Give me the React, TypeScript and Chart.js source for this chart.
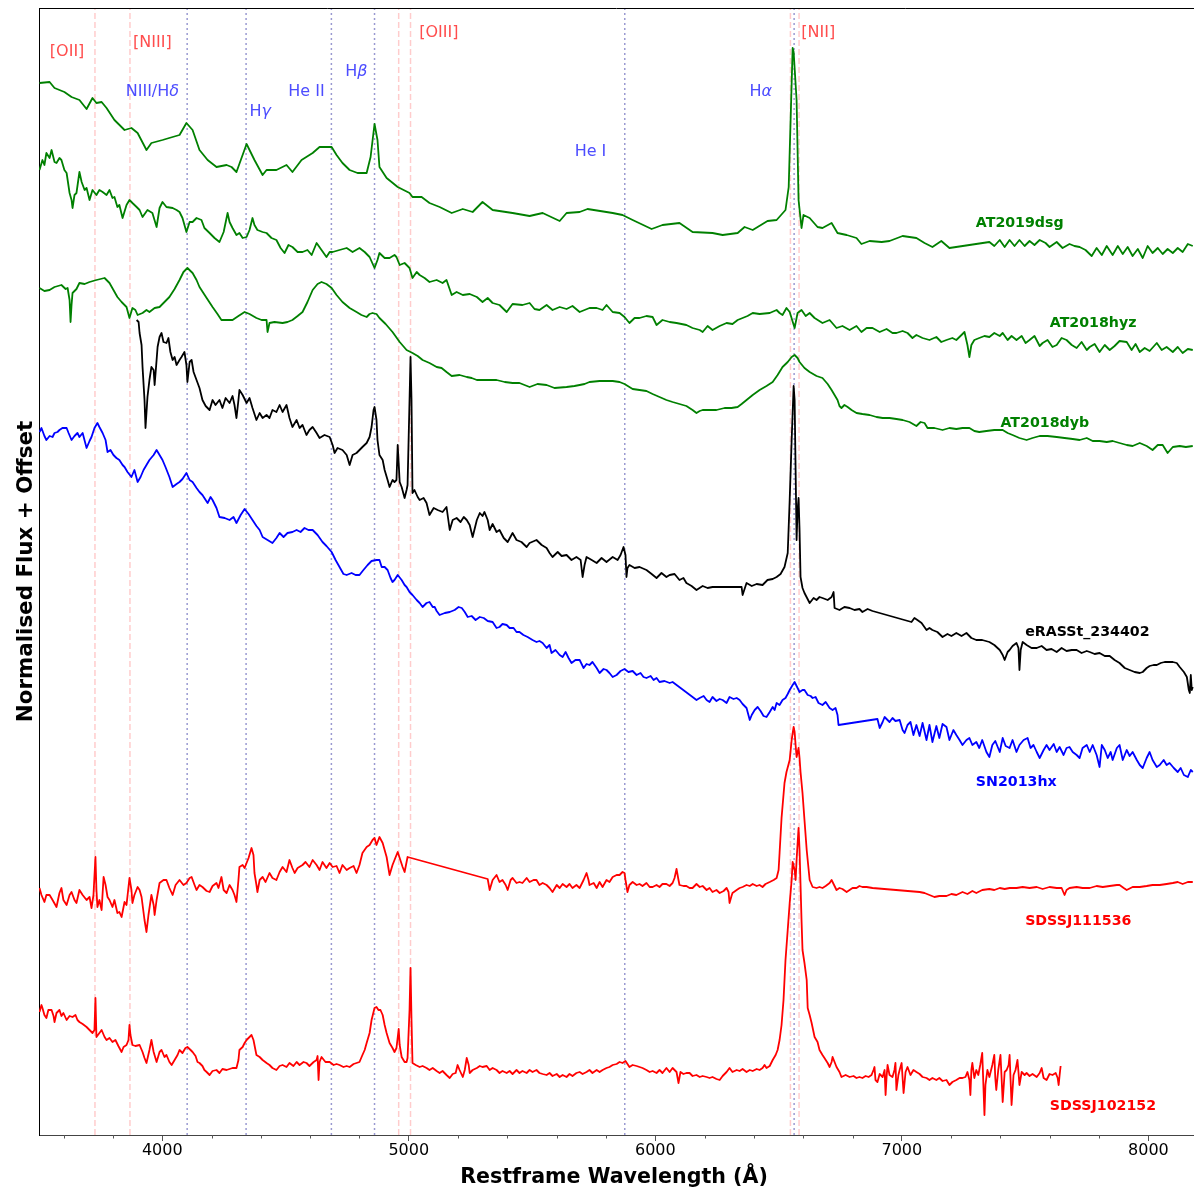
import React, { useEffect, useRef } from 'react';
import { Chart, registerables } from 'chart.js';

Chart.register(...registerables);

// ---------- axes ----------
const X_MIN = 3500;
const X_MAX = 8185;
const Y_MIN = 0;
const Y_MAX = 11.27;
const xTickValues = [4000, 5000, 6000, 7000, 8000];
const xMinorTickValues = [3600, 3800, 4200, 4400, 4600, 4800, 5200, 5400, 5600, 5800, 6200, 6400, 6600, 6800, 7200, 7400, 7600, 7800];

// ---------- reference lines (Å) ----------
const forbiddenLines = [3727, 3869, 4959, 5007, 6548, 6583];
const permittedLines = [4101, 4340, 4686, 4861, 5876, 6563];

const forbiddenLabels = ['[OII]', '[NIII]', '[OIII]', '[NII]'];
const forbiddenLabelWl = [3614, 3960, 5122, 6661];
const forbiddenLabelFlux = [10.83, 10.92, 11.02, 11.02];

const permittedLabels = [['NIII/H', 'δ'], ['H', 'γ'], ['He II', ''], ['H', 'β'], ['He I', ''], ['H', 'α']];
const permittedLabelWl = [3960, 4397, 4585, 4787, 5737, 6428];
const permittedLabelFlux = [10.43, 10.23, 10.43, 10.63, 9.83, 10.43];

// ---------- spectra: [restframe wavelength (Å), normalised flux + offset] ----------
const at2019dsg = [
  [3502, 10.52], [3543, 10.53], [3563, 10.47], [3603, 10.43], [3632, 10.38], [3664, 10.35], [3693, 10.26], [3717, 10.37],
  [3733, 10.32], [3754, 10.33], [3774, 10.27], [3806, 10.15], [3847, 10.05], [3875, 10.07], [3900, 10.02], [3936, 9.85],
  [3956, 9.92], [4001, 9.95], [4042, 9.98], [4070, 10.0], [4098, 10.12], [4123, 10.05], [4151, 9.85], [4184, 9.75],
  [4220, 9.68], [4261, 9.7], [4281, 9.68], [4301, 9.63], [4342, 9.91], [4374, 9.75], [4407, 9.6], [4423, 9.65],
  [4463, 9.65], [4504, 9.7], [4528, 9.63], [4565, 9.75], [4610, 9.82], [4638, 9.88], [4687, 9.88], [4707, 9.8],
  [4731, 9.72], [4760, 9.65], [4792, 9.62], [4829, 9.62], [4845, 9.78], [4861, 10.11], [4873, 9.95], [4881, 9.68],
  [4910, 9.57], [4955, 9.48], [5003, 9.42], [5015, 9.38], [5052, 9.38], [5084, 9.32], [5125, 9.28], [5174, 9.22],
  [5219, 9.26], [5259, 9.23], [5299, 9.33], [5340, 9.25], [5421, 9.22], [5490, 9.19], [5543, 9.22], [5612, 9.14],
  [5640, 9.22], [5693, 9.23], [5725, 9.26], [5827, 9.22], [5867, 9.2], [5908, 9.15], [5985, 9.06], [6029, 9.1],
  [6098, 9.12], [6151, 9.03], [6232, 9.02], [6273, 9.0], [6334, 9.02], [6362, 9.08], [6395, 9.05], [6455, 9.14],
  [6492, 9.15], [6528, 9.25], [6541, 9.48], [6553, 10.52], [6557, 10.87], [6561, 10.83], [6573, 10.35], [6581, 9.35],
  [6593, 9.07], [6601, 9.2], [6626, 9.17], [6658, 9.08], [6678, 9.07], [6715, 9.12], [6739, 9.02], [6776, 9.0],
  [6816, 8.97], [6836, 8.91], [6869, 8.94], [6918, 8.93], [6950, 8.94], [7003, 8.99], [7059, 8.97], [7092, 8.92],
  [7124, 8.88], [7160, 8.94], [7193, 8.87], [7355, 8.93], [7375, 8.89], [7397, 8.95], [7417, 8.88], [7437, 8.95],
  [7457, 8.89], [7477, 8.95], [7498, 8.89], [7518, 8.94], [7538, 8.9], [7559, 8.95], [7583, 8.92], [7599, 8.88],
  [7628, 8.93], [7652, 8.87], [7680, 8.91], [7700, 8.89], [7721, 8.88], [7745, 8.85], [7770, 8.79], [7790, 8.87],
  [7811, 8.8], [7831, 8.89], [7855, 8.8], [7876, 8.89], [7896, 8.81], [7916, 8.88], [7936, 8.79], [7957, 8.86],
  [7977, 8.77], [7997, 8.89], [8017, 8.82], [8038, 8.87], [8058, 8.81], [8078, 8.86], [8099, 8.82], [8119, 8.87],
  [8139, 8.83], [8160, 8.91], [8180, 8.89],
];

const at2018hyz = [
  [3502, 9.65], [3514, 9.75], [3522, 9.7], [3530, 9.82], [3543, 9.77], [3551, 9.85], [3563, 9.73], [3571, 9.72],
  [3583, 9.77], [3591, 9.75], [3603, 9.65], [3612, 9.62], [3624, 9.42], [3632, 9.35], [3636, 9.27], [3644, 9.4],
  [3652, 9.42], [3664, 9.63], [3673, 9.53], [3685, 9.45], [3693, 9.47], [3705, 9.35], [3717, 9.45], [3733, 9.4],
  [3745, 9.45], [3758, 9.43], [3774, 9.4], [3786, 9.45], [3798, 9.37], [3806, 9.38], [3818, 9.28], [3826, 9.3],
  [3839, 9.17], [3855, 9.3], [3867, 9.35], [3879, 9.32], [3896, 9.28], [3908, 9.25], [3920, 9.18], [3940, 9.25],
  [3960, 9.22], [3977, 9.08], [3989, 9.27], [4001, 9.33], [4017, 9.28], [4042, 9.27], [4058, 9.25], [4070, 9.23],
  [4082, 9.17], [4098, 9.03], [4111, 9.13], [4123, 9.13], [4139, 9.17], [4159, 9.15], [4171, 9.07], [4192, 9.02],
  [4212, 8.97], [4232, 8.93], [4249, 9.03], [4265, 9.22], [4273, 9.13], [4285, 9.07], [4301, 9.0], [4313, 9.02],
  [4326, 8.97], [4342, 8.98], [4354, 9.05], [4366, 9.17], [4374, 9.1], [4386, 9.05], [4407, 9.03], [4423, 9.02],
  [4443, 8.97], [4463, 8.95], [4480, 8.87], [4496, 8.82], [4512, 8.9], [4528, 8.88], [4549, 8.83], [4569, 8.83],
  [4589, 8.85], [4606, 8.8], [4626, 8.92], [4646, 8.85], [4666, 8.78], [4679, 8.83], [4691, 8.83], [4719, 8.85],
  [4748, 8.87], [4772, 8.83], [4800, 8.87], [4821, 8.83], [4841, 8.78], [4861, 8.67], [4873, 8.75], [4881, 8.82],
  [4902, 8.77], [4922, 8.77], [4942, 8.8], [4950, 8.78], [4963, 8.7], [4983, 8.72], [5003, 8.67], [5015, 8.57],
  [5032, 8.63], [5044, 8.6], [5064, 8.57], [5084, 8.53], [5113, 8.55], [5137, 8.52], [5153, 8.55], [5174, 8.4],
  [5194, 8.43], [5219, 8.4], [5247, 8.41], [5276, 8.38], [5299, 8.33], [5320, 8.37], [5340, 8.32], [5368, 8.3],
  [5397, 8.23], [5421, 8.31], [5461, 8.3], [5490, 8.32], [5510, 8.26], [5530, 8.25], [5559, 8.3], [5583, 8.25],
  [5612, 8.28], [5640, 8.26], [5664, 8.29], [5693, 8.23], [5733, 8.27], [5762, 8.27], [5786, 8.25], [5802, 8.3],
  [5827, 8.23], [5855, 8.22], [5875, 8.18], [5895, 8.12], [5916, 8.17], [5936, 8.17], [5964, 8.19], [5989, 8.18],
  [6005, 8.1], [6029, 8.15], [6058, 8.13], [6086, 8.12], [6126, 8.1], [6151, 8.07], [6180, 8.05], [6192, 8.03],
  [6212, 8.09], [6232, 8.05], [6261, 8.09], [6289, 8.12], [6313, 8.11], [6334, 8.15], [6354, 8.17], [6374, 8.19],
  [6395, 8.22], [6423, 8.21], [6464, 8.22], [6492, 8.25], [6504, 8.22], [6516, 8.2], [6532, 8.27], [6545, 8.23],
  [6565, 8.07], [6577, 8.22], [6593, 8.25], [6610, 8.19], [6626, 8.22], [6646, 8.17], [6678, 8.12], [6707, 8.15],
  [6735, 8.07], [6759, 8.09], [6788, 8.05], [6816, 8.09], [6836, 8.03], [6857, 8.07], [6881, 8.07], [6910, 8.03],
  [6938, 8.06], [6962, 8.02], [6978, 8.02], [7003, 8.04], [7023, 8.02], [7043, 7.97], [7059, 8.0], [7084, 7.97],
  [7112, 7.95], [7140, 7.98], [7160, 7.93], [7181, 7.95], [7205, 7.97], [7221, 7.95], [7246, 8.01], [7254, 8.03],
  [7266, 7.9], [7274, 7.78], [7282, 7.9], [7294, 7.95], [7314, 7.97], [7335, 7.99], [7355, 7.98], [7375, 8.02],
  [7397, 7.99], [7409, 8.02], [7429, 7.95], [7445, 7.99], [7465, 7.95], [7486, 7.99], [7502, 7.92], [7518, 7.95],
  [7538, 7.99], [7559, 7.89], [7571, 7.92], [7591, 7.95], [7611, 7.88], [7628, 7.9], [7648, 7.97], [7668, 7.95],
  [7689, 7.9], [7709, 7.87], [7729, 7.93], [7750, 7.85], [7762, 7.88], [7782, 7.91], [7802, 7.83], [7823, 7.9],
  [7843, 7.85], [7863, 7.89], [7883, 7.94], [7912, 7.93], [7932, 7.85], [7948, 7.91], [7965, 7.83], [7985, 7.87],
  [8005, 7.84], [8034, 7.92], [8054, 7.85], [8074, 7.88], [8099, 7.83], [8119, 7.88], [8139, 7.82], [8160, 7.86],
  [8180, 7.85],
];

const at2018dyb = [
  [3502, 8.47], [3522, 8.44], [3543, 8.45], [3563, 8.48], [3591, 8.5], [3608, 8.46], [3616, 8.47], [3624, 8.35],
  [3628, 8.13], [3632, 8.3], [3636, 8.42], [3652, 8.46], [3664, 8.52], [3685, 8.51], [3705, 8.53], [3733, 8.55],
  [3766, 8.57], [3786, 8.52], [3802, 8.45], [3818, 8.38], [3835, 8.33], [3855, 8.28], [3867, 8.17], [3879, 8.27],
  [3891, 8.25], [3900, 8.2], [3920, 8.22], [3936, 8.25], [3948, 8.23], [3969, 8.27], [3989, 8.28], [4009, 8.33],
  [4029, 8.38], [4050, 8.46], [4070, 8.55], [4086, 8.63], [4102, 8.67], [4123, 8.62], [4139, 8.55], [4151, 8.48],
  [4180, 8.37], [4204, 8.28], [4224, 8.21], [4240, 8.15], [4265, 8.15], [4285, 8.15], [4309, 8.19], [4334, 8.23],
  [4354, 8.21], [4382, 8.17], [4403, 8.15], [4423, 8.15], [4427, 8.03], [4435, 8.12], [4455, 8.13], [4488, 8.12],
  [4508, 8.13], [4528, 8.15], [4549, 8.19], [4569, 8.23], [4589, 8.33], [4610, 8.45], [4630, 8.51], [4646, 8.53],
  [4666, 8.51], [4687, 8.47], [4707, 8.4], [4731, 8.33], [4760, 8.27], [4788, 8.23], [4808, 8.2], [4829, 8.18],
  [4841, 8.21], [4853, 8.22], [4869, 8.21], [4881, 8.17], [4906, 8.11], [4934, 8.03], [4963, 7.93], [4991, 7.85],
  [5015, 7.82], [5036, 7.79], [5056, 7.75], [5084, 7.72], [5113, 7.68], [5133, 7.67], [5153, 7.63], [5174, 7.59],
  [5206, 7.6], [5235, 7.58], [5255, 7.57], [5276, 7.55], [5296, 7.55], [5316, 7.55], [5336, 7.55], [5356, 7.55],
  [5389, 7.53], [5421, 7.52], [5449, 7.52], [5490, 7.48], [5522, 7.51], [5559, 7.5], [5591, 7.47], [5640, 7.48],
  [5672, 7.49], [5693, 7.5], [5713, 7.51], [5733, 7.53], [5774, 7.54], [5827, 7.54], [5855, 7.53], [5875, 7.51],
  [5908, 7.46], [5936, 7.45], [5964, 7.44], [5989, 7.41], [6017, 7.38], [6045, 7.35], [6070, 7.33], [6098, 7.31],
  [6126, 7.29], [6151, 7.25], [6167, 7.22], [6180, 7.24], [6192, 7.25], [6220, 7.25], [6248, 7.25], [6281, 7.27],
  [6309, 7.27], [6334, 7.28], [6350, 7.31], [6370, 7.35], [6395, 7.4], [6423, 7.45], [6451, 7.49], [6476, 7.53],
  [6496, 7.6], [6516, 7.68], [6537, 7.73], [6553, 7.78], [6565, 7.8], [6577, 7.77], [6585, 7.73], [6605, 7.67],
  [6626, 7.63], [6654, 7.59], [6678, 7.57], [6699, 7.51], [6715, 7.45], [6727, 7.4], [6739, 7.35], [6747, 7.29],
  [6755, 7.27], [6767, 7.3], [6780, 7.28], [6796, 7.25], [6816, 7.22], [6840, 7.21], [6869, 7.2], [6897, 7.18],
  [6922, 7.17], [6950, 7.17], [6978, 7.16], [7003, 7.15], [7031, 7.13], [7059, 7.09], [7076, 7.13], [7092, 7.12],
  [7104, 7.07], [7132, 7.07], [7165, 7.05], [7193, 7.07], [7221, 7.06], [7246, 7.07], [7274, 7.07], [7294, 7.04],
  [7314, 7.03], [7343, 7.04], [7375, 7.05], [7409, 7.05], [7429, 7.02], [7449, 7.0], [7477, 6.97], [7506, 6.95],
  [7530, 6.97], [7559, 6.99], [7591, 6.99], [7628, 6.98], [7660, 6.97], [7693, 6.96], [7721, 6.95], [7750, 6.97],
  [7774, 6.94], [7802, 6.94], [7831, 6.93], [7855, 6.94], [7883, 6.92], [7912, 6.9], [7936, 6.89], [7965, 6.92],
  [7993, 6.89], [8017, 6.85], [8038, 6.9], [8058, 6.9], [8078, 6.82], [8099, 6.88], [8127, 6.89], [8152, 6.88],
  [8180, 6.89],
];

const erasst234402 = [
  [3896, 8.15], [3904, 8.13], [3908, 8.02], [3916, 7.9], [3920, 7.68], [3928, 7.35], [3932, 7.07], [3940, 7.38],
  [3948, 7.55], [3956, 7.68], [3965, 7.65], [3969, 7.5], [3977, 7.75], [3981, 7.88], [3989, 7.98], [3997, 8.02],
  [4005, 7.93], [4017, 7.92], [4025, 7.97], [4033, 7.83], [4042, 7.75], [4050, 7.78], [4058, 7.7], [4070, 7.75],
  [4078, 7.78], [4090, 7.83], [4098, 7.7], [4102, 7.53], [4111, 7.73], [4119, 7.75], [4127, 7.63], [4139, 7.55],
  [4151, 7.47], [4163, 7.35], [4176, 7.29], [4192, 7.25], [4204, 7.35], [4216, 7.3], [4232, 7.35], [4244, 7.27],
  [4257, 7.37], [4273, 7.32], [4285, 7.39], [4293, 7.3], [4301, 7.17], [4309, 7.35], [4313, 7.45], [4326, 7.4],
  [4342, 7.32], [4354, 7.37], [4366, 7.27], [4382, 7.15], [4395, 7.22], [4407, 7.17], [4423, 7.2], [4435, 7.17],
  [4447, 7.25], [4463, 7.23], [4476, 7.3], [4488, 7.23], [4504, 7.3], [4516, 7.17], [4528, 7.08], [4545, 7.15],
  [4557, 7.07], [4569, 7.1], [4585, 7.0], [4597, 7.05], [4610, 7.08], [4626, 7.02], [4638, 6.97], [4658, 7.0],
  [4679, 6.98], [4691, 6.9], [4699, 6.82], [4711, 6.87], [4731, 6.85], [4748, 6.8], [4760, 6.7], [4772, 6.8],
  [4788, 6.82], [4800, 6.85], [4812, 6.88], [4829, 6.92], [4841, 6.98], [4849, 7.08], [4857, 7.25], [4861, 7.28],
  [4869, 7.15], [4873, 6.95], [4881, 6.8], [4894, 6.75], [4902, 6.65], [4914, 6.55], [4922, 6.48], [4934, 6.55],
  [4942, 6.53], [4950, 6.55], [4955, 6.9], [4963, 6.53], [4971, 6.48], [4983, 6.37], [4991, 6.45], [4995, 6.5],
  [5003, 7.35], [5007, 7.78], [5011, 7.35], [5015, 6.42], [5023, 6.45], [5036, 6.38], [5044, 6.35], [5060, 6.37],
  [5072, 6.32], [5084, 6.2], [5101, 6.27], [5117, 6.25], [5137, 6.23], [5153, 6.28], [5166, 6.05], [5178, 6.15],
  [5194, 6.17], [5210, 6.13], [5223, 6.18], [5235, 6.15], [5247, 6.1], [5259, 5.98], [5276, 6.15], [5288, 6.22],
  [5299, 6.19], [5307, 6.23], [5320, 6.15], [5328, 6.05], [5340, 6.11], [5356, 6.03], [5368, 6.05], [5385, 5.97],
  [5401, 5.93], [5421, 6.02], [5437, 5.95], [5457, 5.93], [5478, 5.88], [5490, 5.92], [5518, 5.95], [5539, 5.9],
  [5559, 5.87], [5571, 5.82], [5583, 5.78], [5604, 5.83], [5620, 5.79], [5640, 5.8], [5660, 5.75], [5680, 5.78],
  [5697, 5.75], [5705, 5.58], [5713, 5.7], [5721, 5.78], [5742, 5.75], [5762, 5.72], [5782, 5.77], [5802, 5.73],
  [5827, 5.78], [5847, 5.75], [5859, 5.8], [5871, 5.88], [5879, 5.8], [5883, 5.58], [5887, 5.67], [5895, 5.7],
  [5916, 5.67], [5936, 5.68], [5964, 5.65], [5985, 5.61], [6005, 5.57], [6025, 5.62], [6045, 5.58], [6058, 5.6],
  [6078, 5.61], [6098, 5.55], [6114, 5.57], [6126, 5.52], [6147, 5.49], [6167, 5.45], [6192, 5.49], [6212, 5.47],
  [6232, 5.48], [6350, 5.48], [6354, 5.4], [6370, 5.52], [6391, 5.49], [6411, 5.51], [6435, 5.5], [6455, 5.55],
  [6476, 5.56], [6492, 5.58], [6508, 5.61], [6524, 5.68], [6537, 5.82], [6545, 6.35], [6553, 6.95], [6561, 7.49],
  [6565, 7.35], [6569, 6.65], [6573, 5.95], [6577, 6.25], [6581, 6.37], [6585, 6.05], [6589, 5.58], [6597, 5.47],
  [6605, 5.42], [6626, 5.32], [6642, 5.37], [6654, 5.35], [6666, 5.38], [6678, 5.37], [6699, 5.35], [6715, 5.38],
  [6723, 5.43], [6727, 5.27], [6747, 5.25], [6767, 5.28], [6788, 5.27], [6808, 5.25], [6828, 5.26], [6840, 5.23],
  [6861, 5.26], [6881, 5.24], [7039, 5.13], [7051, 5.17], [7063, 5.15], [7080, 5.12], [7100, 5.05], [7112, 5.07],
  [7124, 5.05], [7144, 5.03], [7165, 4.98], [7185, 5.01], [7201, 4.99], [7221, 5.02], [7242, 4.99], [7262, 5.02],
  [7282, 4.97], [7302, 4.95], [7326, 4.95], [7355, 4.93], [7375, 4.9], [7397, 4.85], [7409, 4.8], [7417, 4.75],
  [7429, 4.83], [7437, 4.85], [7449, 4.89], [7465, 4.92], [7473, 4.87], [7477, 4.65], [7482, 4.85], [7490, 4.93],
  [7506, 4.9], [7526, 4.87], [7547, 4.87], [7567, 4.89], [7587, 4.85], [7607, 4.86], [7628, 4.83], [7648, 4.87],
  [7668, 4.84], [7689, 4.85], [7709, 4.85], [7729, 4.82], [7750, 4.84], [7762, 4.83], [7782, 4.81], [7802, 4.82],
  [7823, 4.79], [7843, 4.79], [7863, 4.75], [7883, 4.72], [7904, 4.67], [7924, 4.65], [7944, 4.63], [7965, 4.62],
  [7977, 4.63], [7993, 4.67], [8005, 4.69], [8021, 4.7], [8034, 4.7], [8050, 4.72], [8066, 4.73], [8086, 4.73],
  [8099, 4.73], [8115, 4.72], [8127, 4.68], [8144, 4.63], [8156, 4.58], [8164, 4.45], [8168, 4.42], [8172, 4.6],
  [8176, 4.45], [8180, 4.48],
];

const sn2013hx = [
  [3502, 7.03], [3510, 7.07], [3522, 6.99], [3530, 6.95], [3543, 6.99], [3555, 6.98], [3563, 7.02], [3575, 7.03],
  [3583, 7.05], [3595, 7.07], [3612, 7.07], [3620, 7.02], [3632, 6.95], [3644, 6.99], [3656, 7.02], [3664, 6.98],
  [3677, 7.02], [3693, 6.87], [3705, 6.94], [3713, 6.98], [3725, 7.07], [3737, 7.12], [3745, 7.08], [3758, 7.02],
  [3770, 6.95], [3778, 6.83], [3790, 6.85], [3802, 6.8], [3814, 6.77], [3826, 6.75], [3839, 6.7], [3847, 6.68],
  [3859, 6.63], [3875, 6.58], [3887, 6.65], [3900, 6.53], [3912, 6.58], [3924, 6.65], [3936, 6.7], [3948, 6.75],
  [3965, 6.8], [3977, 6.85], [3989, 6.8], [4001, 6.75], [4013, 6.68], [4029, 6.58], [4042, 6.48], [4058, 6.51],
  [4070, 6.53], [4082, 6.56], [4098, 6.62], [4111, 6.55], [4123, 6.53], [4139, 6.47], [4151, 6.43], [4163, 6.4],
  [4176, 6.35], [4184, 6.32], [4196, 6.38], [4204, 6.35], [4220, 6.27], [4232, 6.18], [4253, 6.17], [4273, 6.15],
  [4289, 6.18], [4301, 6.12], [4318, 6.2], [4334, 6.26], [4350, 6.21], [4366, 6.15], [4382, 6.09], [4395, 6.05],
  [4407, 5.98], [4427, 5.95], [4447, 5.92], [4463, 5.97], [4476, 6.02], [4492, 5.98], [4508, 6.02], [4528, 6.03],
  [4545, 6.05], [4561, 6.03], [4577, 6.07], [4593, 6.05], [4610, 6.05], [4630, 6.0], [4650, 5.93], [4666, 5.89],
  [4687, 5.83], [4703, 5.75], [4719, 5.68], [4735, 5.61], [4748, 5.6], [4768, 5.62], [4784, 5.6], [4800, 5.6],
  [4816, 5.65], [4833, 5.7], [4849, 5.74], [4869, 5.75], [4881, 5.75], [4890, 5.68], [4902, 5.68], [4914, 5.65],
  [4926, 5.57], [4934, 5.53], [4942, 5.55], [4955, 5.6], [4971, 5.55], [4983, 5.5], [4991, 5.48], [5003, 5.43],
  [5015, 5.4], [5032, 5.35], [5044, 5.32], [5056, 5.28], [5072, 5.32], [5084, 5.33], [5097, 5.28], [5105, 5.28],
  [5113, 5.24], [5125, 5.2], [5146, 5.22], [5166, 5.23], [5186, 5.25], [5202, 5.28], [5215, 5.27], [5227, 5.23],
  [5239, 5.18], [5255, 5.19], [5271, 5.15], [5288, 5.18], [5304, 5.17], [5320, 5.14], [5340, 5.13], [5356, 5.07],
  [5368, 5.08], [5380, 5.11], [5397, 5.1], [5409, 5.07], [5425, 5.07], [5437, 5.03], [5449, 5.03], [5465, 5.0],
  [5482, 4.98], [5502, 4.95], [5518, 4.93], [5530, 4.94], [5543, 4.92], [5559, 4.87], [5571, 4.9], [5579, 4.82],
  [5595, 4.85], [5612, 4.8], [5624, 4.78], [5636, 4.83], [5648, 4.77], [5660, 4.72], [5676, 4.75], [5693, 4.75],
  [5709, 4.67], [5721, 4.71], [5733, 4.7], [5745, 4.73], [5762, 4.67], [5774, 4.62], [5790, 4.66], [5802, 4.65],
  [5814, 4.62], [5827, 4.58], [5843, 4.6], [5859, 4.64], [5875, 4.66], [5891, 4.63], [5908, 4.64], [5924, 4.6],
  [5940, 4.62], [5952, 4.58], [5964, 4.57], [5981, 4.59], [5993, 4.55], [6005, 4.57], [6017, 4.53], [6037, 4.54],
  [6058, 4.52], [6070, 4.53], [6151, 4.38], [6167, 4.35], [6180, 4.37], [6196, 4.39], [6208, 4.35], [6220, 4.33],
  [6232, 4.38], [6248, 4.34], [6261, 4.36], [6273, 4.35], [6289, 4.32], [6301, 4.38], [6317, 4.36], [6330, 4.37],
  [6342, 4.35], [6354, 4.31], [6370, 4.27], [6383, 4.15], [6391, 4.2], [6403, 4.25], [6415, 4.28], [6427, 4.24],
  [6439, 4.19], [6451, 4.18], [6464, 4.23], [6476, 4.28], [6484, 4.25], [6492, 4.32], [6504, 4.3], [6516, 4.35],
  [6528, 4.37], [6537, 4.41], [6545, 4.45], [6557, 4.5], [6565, 4.53], [6577, 4.47], [6585, 4.43], [6597, 4.45],
  [6605, 4.45], [6618, 4.4], [6630, 4.39], [6638, 4.37], [6650, 4.38], [6662, 4.32], [6678, 4.3], [6691, 4.33],
  [6707, 4.27], [6719, 4.25], [6731, 4.27], [6739, 4.2], [6743, 4.1], [6901, 4.16], [6910, 4.07], [6922, 4.13],
  [6930, 4.18], [6942, 4.15], [6950, 4.13], [6962, 4.17], [6974, 4.14], [6991, 4.15], [7003, 4.05], [7011, 4.02],
  [7023, 4.1], [7035, 4.13], [7047, 4.0], [7059, 4.1], [7072, 3.99], [7084, 4.12], [7100, 3.95], [7112, 4.1],
  [7124, 3.93], [7140, 4.09], [7152, 3.97], [7165, 4.11], [7181, 4.08], [7193, 3.95], [7209, 4.05], [7221, 4.0],
  [7234, 3.95], [7246, 3.9], [7262, 3.95], [7274, 3.97], [7286, 3.9], [7302, 3.93], [7314, 3.87], [7326, 3.95],
  [7343, 3.83], [7355, 3.78], [7367, 3.9], [7379, 3.94], [7397, 3.83], [7409, 3.97], [7421, 3.89], [7437, 3.87],
  [7449, 3.95], [7465, 3.83], [7477, 3.9], [7494, 3.95], [7510, 3.97], [7522, 3.87], [7534, 3.9], [7547, 3.83],
  [7559, 3.77], [7575, 3.85], [7587, 3.9], [7599, 3.85], [7616, 3.91], [7628, 3.83], [7640, 3.88], [7656, 3.8],
  [7668, 3.87], [7680, 3.88], [7693, 3.83], [7709, 3.8], [7721, 3.77], [7733, 3.87], [7750, 3.9], [7762, 3.83],
  [7774, 3.9], [7790, 3.8], [7802, 3.68], [7811, 3.9], [7823, 3.85], [7835, 3.77], [7847, 3.83], [7855, 3.75],
  [7872, 3.87], [7883, 3.9], [7896, 3.75], [7912, 3.85], [7924, 3.79], [7936, 3.83], [7953, 3.75], [7965, 3.7],
  [7977, 3.67], [7993, 3.77], [8005, 3.83], [8017, 3.75], [8034, 3.68], [8046, 3.7], [8062, 3.75], [8074, 3.7],
  [8086, 3.72], [8103, 3.67], [8119, 3.63], [8131, 3.67], [8144, 3.6], [8160, 3.58], [8172, 3.65], [8180, 3.63],
];

const sdssj111536 = [
  [3502, 2.47], [3510, 2.4], [3522, 2.33], [3530, 2.4], [3543, 2.4], [3555, 2.35], [3571, 2.28], [3583, 2.42],
  [3591, 2.47], [3599, 2.35], [3612, 2.3], [3624, 2.4], [3632, 2.43], [3644, 2.35], [3652, 2.32], [3664, 2.45],
  [3677, 2.4], [3693, 2.35], [3705, 2.38], [3713, 2.27], [3721, 2.4], [3729, 2.78], [3733, 2.45], [3737, 2.28],
  [3745, 2.35], [3754, 2.25], [3762, 2.58], [3770, 2.5], [3778, 2.38], [3786, 2.35], [3798, 2.28], [3806, 2.35],
  [3818, 2.22], [3826, 2.23], [3835, 2.18], [3847, 2.33], [3855, 2.3], [3867, 2.57], [3875, 2.45], [3879, 2.32],
  [3887, 2.4], [3900, 2.48], [3908, 2.45], [3916, 2.38], [3928, 2.15], [3936, 2.03], [3944, 2.2], [3956, 2.4],
  [3965, 2.3], [3969, 2.2], [3977, 2.35], [3989, 2.52], [4005, 2.55], [4017, 2.55], [4029, 2.47], [4042, 2.4],
  [4054, 2.5], [4070, 2.55], [4086, 2.5], [4098, 2.52], [4111, 2.57], [4119, 2.58], [4131, 2.5], [4139, 2.45],
  [4151, 2.5], [4163, 2.48], [4180, 2.44], [4192, 2.43], [4204, 2.49], [4220, 2.52], [4228, 2.47], [4240, 2.58],
  [4249, 2.45], [4261, 2.42], [4273, 2.5], [4285, 2.45], [4293, 2.4], [4301, 2.33], [4309, 2.55], [4313, 2.68],
  [4326, 2.7], [4334, 2.67], [4342, 2.72], [4350, 2.77], [4362, 2.87], [4370, 2.8], [4374, 2.62], [4382, 2.5],
  [4386, 2.43], [4395, 2.55], [4407, 2.58], [4419, 2.53], [4435, 2.62], [4447, 2.57], [4463, 2.55], [4476, 2.63],
  [4488, 2.68], [4504, 2.63], [4516, 2.75], [4528, 2.67], [4537, 2.62], [4549, 2.67], [4569, 2.7], [4581, 2.73],
  [4597, 2.68], [4610, 2.75], [4626, 2.7], [4638, 2.65], [4650, 2.73], [4666, 2.67], [4679, 2.72], [4691, 2.68],
  [4707, 2.69], [4719, 2.62], [4731, 2.7], [4748, 2.65], [4760, 2.67], [4776, 2.69], [4788, 2.62], [4800, 2.7],
  [4812, 2.82], [4829, 2.88], [4841, 2.9], [4853, 2.95], [4861, 2.97], [4869, 2.9], [4881, 2.98], [4894, 2.92],
  [4902, 2.85], [4910, 2.78], [4922, 2.6], [4934, 2.7], [4942, 2.75], [4955, 2.83], [4963, 2.77], [4975, 2.68],
  [4983, 2.63], [4995, 2.78], [5320, 2.56], [5328, 2.45], [5340, 2.55], [5356, 2.6], [5368, 2.53], [5380, 2.55],
  [5393, 2.5], [5401, 2.45], [5413, 2.55], [5421, 2.57], [5437, 2.52], [5449, 2.53], [5461, 2.52], [5478, 2.57],
  [5490, 2.53], [5506, 2.55], [5518, 2.55], [5530, 2.5], [5543, 2.52], [5559, 2.5], [5571, 2.47], [5583, 2.43],
  [5600, 2.5], [5612, 2.47], [5624, 2.51], [5640, 2.48], [5652, 2.51], [5664, 2.47], [5680, 2.5], [5693, 2.47],
  [5709, 2.55], [5721, 2.62], [5729, 2.55], [5733, 2.5], [5750, 2.52], [5762, 2.47], [5774, 2.53], [5786, 2.48],
  [5802, 2.55], [5814, 2.53], [5827, 2.58], [5843, 2.6], [5855, 2.6], [5867, 2.63], [5875, 2.62], [5879, 2.55],
  [5887, 2.43], [5895, 2.5], [5908, 2.53], [5924, 2.5], [5936, 2.51], [5948, 2.49], [5964, 2.52], [5977, 2.48],
  [5989, 2.48], [6005, 2.5], [6017, 2.48], [6029, 2.51], [6045, 2.51], [6058, 2.49], [6070, 2.52], [6078, 2.57],
  [6086, 2.66], [6094, 2.55], [6098, 2.5], [6114, 2.49], [6126, 2.49], [6139, 2.47], [6151, 2.47], [6167, 2.51],
  [6180, 2.48], [6192, 2.49], [6208, 2.45], [6220, 2.47], [6232, 2.43], [6248, 2.45], [6261, 2.42], [6277, 2.44],
  [6289, 2.47], [6297, 2.43], [6301, 2.32], [6309, 2.39], [6313, 2.42], [6330, 2.45], [6342, 2.47], [6354, 2.48],
  [6370, 2.5], [6383, 2.49], [6395, 2.51], [6411, 2.49], [6423, 2.5], [6435, 2.48], [6447, 2.51], [6464, 2.53],
  [6480, 2.55], [6492, 2.57], [6500, 2.65], [6504, 2.82], [6512, 3.17], [6524, 3.52], [6532, 3.63], [6545, 3.75],
  [6553, 3.95], [6561, 4.08], [6565, 4.03], [6569, 3.9], [6573, 3.78], [6581, 3.87], [6585, 3.77], [6589, 3.63],
  [6597, 3.42], [6605, 3.15], [6614, 2.85], [6626, 2.55], [6638, 2.48], [6654, 2.47], [6666, 2.48], [6678, 2.47],
  [6691, 2.49], [6707, 2.52], [6715, 2.55], [6723, 2.51], [6735, 2.45], [6747, 2.47], [6759, 2.46], [6776, 2.43],
  [6788, 2.45], [6800, 2.47], [6816, 2.47], [6828, 2.49], [6840, 2.48], [6857, 2.48], [6881, 2.47], [7072, 2.43],
  [7092, 2.42], [7112, 2.4], [7132, 2.38], [7152, 2.39], [7181, 2.39], [7201, 2.41], [7221, 2.4], [7246, 2.43],
  [7266, 2.41], [7286, 2.44], [7302, 2.42], [7326, 2.45], [7355, 2.46], [7375, 2.45], [7397, 2.47], [7417, 2.46],
  [7437, 2.47], [7465, 2.47], [7490, 2.48], [7518, 2.47], [7547, 2.48], [7571, 2.46], [7599, 2.48], [7628, 2.47],
  [7648, 2.47], [7660, 2.4], [7668, 2.45], [7680, 2.47], [7709, 2.48], [7733, 2.47], [7762, 2.47], [7790, 2.49],
  [7815, 2.48], [7843, 2.49], [7872, 2.5], [7883, 2.5], [7900, 2.47], [7912, 2.45], [7936, 2.48], [7965, 2.48],
  [7993, 2.49], [8017, 2.5], [8046, 2.5], [8074, 2.51], [8099, 2.52], [8119, 2.53], [8139, 2.51], [8160, 2.53],
  [8180, 2.53],
];

const sdssj102152 = [
  [3502, 1.23], [3510, 1.3], [3514, 1.27], [3522, 1.2], [3530, 1.17], [3538, 1.25], [3551, 1.25], [3559, 1.19],
  [3563, 1.13], [3571, 1.22], [3583, 1.25], [3591, 1.19], [3599, 1.22], [3612, 1.15], [3624, 1.19], [3636, 1.18],
  [3648, 1.2], [3656, 1.15], [3664, 1.13], [3677, 1.11], [3693, 1.08], [3705, 1.05], [3717, 1.02], [3725, 1.05],
  [3729, 1.37], [3733, 0.98], [3745, 1.02], [3754, 1.05], [3766, 0.98], [3774, 0.95], [3786, 0.97], [3798, 0.93],
  [3810, 0.95], [3822, 0.89], [3835, 0.83], [3843, 0.88], [3855, 0.9], [3863, 0.95], [3867, 1.1], [3871, 1.0],
  [3879, 0.9], [3891, 0.89], [3908, 0.9], [3920, 0.83], [3928, 0.77], [3936, 0.72], [3948, 0.85], [3956, 0.95],
  [3965, 0.83], [3977, 0.73], [3989, 0.83], [3997, 0.85], [4009, 0.78], [4017, 0.8], [4029, 0.73], [4038, 0.7],
  [4050, 0.75], [4062, 0.8], [4070, 0.85], [4082, 0.82], [4094, 0.87], [4102, 0.88], [4115, 0.85], [4123, 0.83],
  [4135, 0.79], [4143, 0.73], [4151, 0.72], [4163, 0.69], [4171, 0.65], [4180, 0.63], [4192, 0.6], [4204, 0.64],
  [4220, 0.65], [4232, 0.62], [4244, 0.66], [4261, 0.65], [4273, 0.66], [4285, 0.67], [4301, 0.67], [4309, 0.75],
  [4313, 0.85], [4326, 0.88], [4334, 0.92], [4342, 0.95], [4354, 0.98], [4362, 1.0], [4370, 0.95], [4382, 0.8],
  [4395, 0.78], [4407, 0.75], [4423, 0.72], [4435, 0.7], [4447, 0.67], [4463, 0.65], [4476, 0.69], [4488, 0.7],
  [4504, 0.68], [4516, 0.72], [4532, 0.69], [4545, 0.73], [4557, 0.7], [4573, 0.73], [4585, 0.72], [4597, 0.69],
  [4614, 0.73], [4626, 0.75], [4630, 0.79], [4634, 0.55], [4638, 0.73], [4646, 0.78], [4662, 0.73], [4679, 0.73],
  [4695, 0.7], [4707, 0.71], [4719, 0.7], [4735, 0.68], [4748, 0.69], [4760, 0.68], [4776, 0.71], [4788, 0.72],
  [4800, 0.73], [4812, 0.8], [4821, 0.85], [4829, 0.92], [4841, 1.02], [4849, 1.15], [4857, 1.23], [4861, 1.27],
  [4869, 1.28], [4877, 1.25], [4885, 1.25], [4894, 1.2], [4902, 1.1], [4910, 1.02], [4922, 0.92], [4934, 0.87],
  [4942, 0.83], [4950, 0.87], [4959, 1.06], [4963, 0.9], [4971, 0.78], [4983, 0.73], [4991, 0.73], [4995, 0.77],
  [5003, 1.25], [5007, 1.67], [5011, 1.15], [5015, 0.72], [5028, 0.7], [5044, 0.68], [5056, 0.69], [5072, 0.67],
  [5084, 0.65], [5097, 0.67], [5113, 0.64], [5125, 0.62], [5137, 0.64], [5153, 0.6], [5166, 0.57], [5178, 0.61],
  [5190, 0.62], [5198, 0.7], [5206, 0.65], [5219, 0.58], [5227, 0.65], [5235, 0.77], [5243, 0.7], [5247, 0.62],
  [5259, 0.65], [5276, 0.67], [5288, 0.69], [5299, 0.68], [5316, 0.69], [5328, 0.65], [5340, 0.67], [5356, 0.65],
  [5368, 0.62], [5380, 0.64], [5397, 0.62], [5409, 0.64], [5421, 0.61], [5437, 0.65], [5449, 0.62], [5461, 0.64],
  [5478, 0.62], [5490, 0.65], [5502, 0.63], [5518, 0.65], [5530, 0.62], [5543, 0.61], [5559, 0.6], [5571, 0.62],
  [5583, 0.59], [5600, 0.61], [5612, 0.58], [5624, 0.6], [5640, 0.58], [5652, 0.61], [5664, 0.59], [5680, 0.62],
  [5693, 0.63], [5705, 0.61], [5721, 0.63], [5733, 0.65], [5745, 0.62], [5762, 0.65], [5774, 0.63], [5786, 0.65],
  [5802, 0.67], [5814, 0.68], [5827, 0.7], [5843, 0.71], [5855, 0.73], [5867, 0.72], [5879, 0.74], [5887, 0.71],
  [5895, 0.68], [5908, 0.7], [5924, 0.69], [5936, 0.68], [5948, 0.67], [5964, 0.65], [5977, 0.63], [5989, 0.64],
  [6005, 0.62], [6017, 0.65], [6029, 0.62], [6045, 0.67], [6058, 0.63], [6070, 0.67], [6086, 0.63], [6094, 0.52],
  [6102, 0.63], [6114, 0.61], [6126, 0.62], [6139, 0.62], [6151, 0.59], [6167, 0.6], [6180, 0.58], [6192, 0.59],
  [6208, 0.58], [6220, 0.57], [6232, 0.58], [6248, 0.56], [6261, 0.55], [6273, 0.59], [6289, 0.63], [6301, 0.67],
  [6313, 0.63], [6330, 0.65], [6342, 0.64], [6354, 0.66], [6370, 0.63], [6383, 0.65], [6395, 0.64], [6411, 0.66],
  [6423, 0.65], [6435, 0.67], [6443, 0.7], [6451, 0.67], [6464, 0.69], [6476, 0.75], [6488, 0.8], [6496, 0.85],
  [6504, 0.95], [6512, 1.1], [6520, 1.35], [6528, 1.75], [6537, 2.05], [6545, 2.32], [6553, 2.55], [6557, 2.73],
  [6565, 2.65], [6569, 2.55], [6573, 2.75], [6581, 3.07], [6585, 2.85], [6593, 2.15], [6597, 1.85], [6605, 1.72],
  [6614, 1.55], [6618, 1.27], [6626, 1.2], [6634, 1.12], [6646, 0.98], [6658, 0.93], [6666, 0.85], [6678, 0.8],
  [6686, 0.77], [6699, 0.72], [6707, 0.68], [6715, 0.73], [6719, 0.78], [6727, 0.73], [6735, 0.68], [6747, 0.63],
  [6755, 0.58], [6772, 0.6], [6788, 0.58], [6804, 0.59], [6816, 0.57], [6828, 0.58], [6840, 0.57], [6853, 0.59],
  [6865, 0.58], [6877, 0.6], [6885, 0.65], [6889, 0.68], [6893, 0.55], [6901, 0.53], [6910, 0.61], [6922, 0.58],
  [6930, 0.65], [6934, 0.4], [6938, 0.58], [6942, 0.7], [6950, 0.6], [6962, 0.58], [6970, 0.65], [6974, 0.72],
  [6978, 0.45], [6986, 0.6], [6991, 0.65], [6999, 0.72], [7007, 0.42], [7015, 0.63], [7023, 0.68], [7035, 0.6],
  [7047, 0.65], [7059, 0.63], [7072, 0.61], [7084, 0.58], [7100, 0.57], [7112, 0.55], [7124, 0.57], [7140, 0.55],
  [7152, 0.57], [7165, 0.54], [7181, 0.55], [7193, 0.5], [7205, 0.53], [7221, 0.55], [7234, 0.57], [7246, 0.57],
  [7258, 0.58], [7266, 0.63], [7274, 0.55], [7278, 0.4], [7282, 0.65], [7286, 0.72], [7294, 0.57], [7302, 0.65],
  [7310, 0.6], [7318, 0.7], [7326, 0.82], [7330, 0.55], [7335, 0.2], [7339, 0.5], [7347, 0.65], [7355, 0.58],
  [7367, 0.7], [7375, 0.8], [7379, 0.57], [7383, 0.45], [7391, 0.65], [7400, 0.8], [7404, 0.6], [7409, 0.33],
  [7417, 0.63], [7425, 0.65], [7433, 0.7], [7437, 0.8], [7441, 0.55], [7445, 0.3], [7453, 0.6], [7461, 0.65],
  [7469, 0.75], [7473, 0.63], [7477, 0.5], [7486, 0.63], [7498, 0.6], [7506, 0.62], [7518, 0.59], [7530, 0.61],
  [7547, 0.58], [7559, 0.62], [7567, 0.67], [7575, 0.57], [7587, 0.55], [7599, 0.61], [7611, 0.6], [7624, 0.62],
  [7632, 0.57], [7636, 0.5], [7640, 0.6], [7644, 0.69],
];

const seriesData = [at2019dsg, at2018hyz, at2018dyb, erasst234402, sn2013hx, sdssj111536, sdssj102152];
const seriesNames = ['AT2019dsg', 'AT2018hyz', 'AT2018dyb', 'eRASSt_234402', 'SN2013hx', 'SDSSJ111536', 'SDSSJ102152'];
const seriesColors = ['#008000', '#008000', '#008000', '#000000', '#0000ff', '#ff0000', '#ff0000'];
const seriesLabelWl = [7300, 7600, 7400, 7500, 7300, 7500, 7600];
const seriesLabelFlux = [9.12, 8.12, 7.12, 5.03, 3.53, 2.14, 0.29];

const FONT = '"DejaVu Sans", "Liberation Sans", sans-serif';

function drawMixed(ctx: CanvasRenderingContext2D, parts: string[], cx: number, cy: number, size: number) {
  const normal = `${size}px ${FONT}`;
  const ital = `italic ${size}px ${FONT}`;
  ctx.font = normal;
  const w0 = ctx.measureText(parts[0]).width;
  ctx.font = ital;
  const w1 = parts[1] ? ctx.measureText(parts[1]).width : 0;
  let x = cx - (w0 + w1) / 2;
  ctx.textAlign = 'left';
  ctx.font = normal;
  ctx.fillText(parts[0], x, cy);
  if (parts[1]) {
    ctx.font = ital;
    ctx.fillText(parts[1], x + w0, cy);
  }
}

const overlayPlugin = {
  id: 'overlay',
  afterDraw(chart: any) {
    const { ctx, chartArea } = chart;
    const xs = chart.scales.x;
    const ys = chart.scales.y;
    ctx.save();
    // top spine
    ctx.strokeStyle = '#000';
    ctx.lineWidth = 1;
    ctx.beginPath();
    ctx.moveTo(chartArea.left, chartArea.top + 0.5);
    ctx.lineTo(chartArea.right, chartArea.top + 0.5);
    ctx.stroke();
    // minor ticks
    ctx.strokeStyle = '#555';
    for (const v of xMinorTickValues) {
      const px = Math.round(xs.getPixelForValue(v)) + 0.5;
      ctx.beginPath();
      ctx.moveTo(px, chartArea.bottom);
      ctx.lineTo(px, chartArea.bottom + 3.5);
      ctx.stroke();
    }
    // line labels
    ctx.textBaseline = 'middle';
    ctx.fillStyle = 'rgba(255,77,77,1)';
    forbiddenLabels.forEach((t, i) => {
      drawMixed(ctx, [t, ''], xs.getPixelForValue(forbiddenLabelWl[i]), ys.getPixelForValue(forbiddenLabelFlux[i]), 16);
    });
    ctx.fillStyle = 'rgba(77,77,255,1)';
    permittedLabels.forEach((p, i) => {
      drawMixed(ctx, p, xs.getPixelForValue(permittedLabelWl[i]), ys.getPixelForValue(permittedLabelFlux[i]), 16);
    });
    // series labels
    ctx.font = `bold 14.2px ${FONT}`;
    ctx.textAlign = 'left';
    seriesNames.forEach((n, i) => {
      ctx.fillStyle = seriesColors[i];
      ctx.fillText(n, xs.getPixelForValue(seriesLabelWl[i]), ys.getPixelForValue(seriesLabelFlux[i]));
    });
    // axis titles
    ctx.fillStyle = '#000';
    ctx.textBaseline = 'alphabetic';
    ctx.textAlign = 'center';
    ctx.font = `bold 20.6px ${FONT}`;
    ctx.fillText('Restframe Wavelength (Å)', 614, 1183);
    ctx.save();
    ctx.translate(31.5, (chartArea.top + chartArea.bottom) / 2);
    ctx.rotate(-Math.PI / 2);
    ctx.font = `bold 21.4px ${FONT}`;
    ctx.fillText('Normalised Flux + Offset', 0, 0);
    ctx.restore();
    ctx.restore();
  },
};

export default function App() {
  const ref = useRef<HTMLCanvasElement>(null);
  useEffect(() => {
    document.body.style.margin = '0';
    const canvas = ref.current;
    if (!canvas) return;
    const vlineSets: any[] = [];
    forbiddenLines.forEach((v) => {
      vlineSets.push({
        data: [{ x: v, y: Y_MIN }, { x: v, y: Y_MAX }],
        borderColor: 'rgba(255,0,0,0.2)',
        borderWidth: 1.5,
        borderDash: [6, 3],
        pointRadius: 0,
        order: 20,
      });
    });
    permittedLines.forEach((v) => {
      vlineSets.push({
        data: [{ x: v, y: Y_MIN }, { x: v, y: Y_MAX }],
        borderColor: 'rgba(0,0,140,0.4)',
        borderWidth: 1.5,
        borderDash: [2, 3],
        pointRadius: 0,
        order: 20,
      });
    });
    const specSets = seriesData.map((arr, i) => ({
      label: seriesNames[i],
      data: arr.map(([x, y]) => ({ x, y })),
      borderColor: seriesColors[i],
      borderWidth: 1.8,
      pointRadius: 0,
      tension: 0,
      borderJoinStyle: 'round',
      order: 10 - i,
    }));
    const chart = new Chart(canvas, {
      type: 'line',
      data: { datasets: [...vlineSets, ...specSets] as any },
      options: {
        animation: false,
        responsive: false,
        devicePixelRatio: 1,
        events: [],
        layout: { padding: { left: 39, top: 8, right: 0, bottom: 0 } },
        plugins: { legend: { display: false }, tooltip: { enabled: false } },
        scales: {
          x: {
            type: 'linear',
            min: X_MIN,
            max: X_MAX,
            afterBuildTicks: (s: any) => {
              s.ticks = xTickValues.map((v) => ({ value: v }));
            },
            afterFit: (s: any) => {
              s.height = 53;
            },
            ticks: {
              font: { family: FONT, size: 16 },
              color: '#000',
              padding: 0,
              maxRotation: 0,
              autoSkip: false,
              callback: (v: any) => String(v),
            },
            grid: { drawOnChartArea: false, drawTicks: true, tickLength: 6, color: '#555' },
            border: { display: true, color: '#444', width: 1 },
          },
          y: {
            type: 'linear',
            min: Y_MIN,
            max: Y_MAX,
            ticks: { display: false },
            grid: { display: false, drawTicks: false },
            border: { display: true, color: '#000', width: 1 },
            afterFit: (s: any) => {
              s.width = 0;
            },
          },
        },
      },
      plugins: [overlayPlugin],
    });
    return () => chart.destroy();
  }, []);
  return (
    <div style={{ width: 1194, height: 1188, position: 'relative', background: '#fff' }}>
      <canvas ref={ref} width={1194} height={1188} style={{ display: 'block' }} />
    </div>
  );
}
